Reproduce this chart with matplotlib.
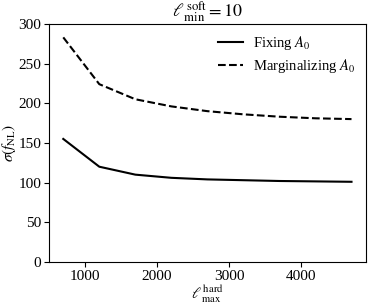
# sigma(f_NL) vs hard lmax, soft lmin = 10
import numpy as np
import matplotlib.pyplot as plt

plt.rcParams['font.family'] = 'Liberation Serif'
plt.rcParams['mathtext.fontset'] = 'stix'

lmax = [700, 1200, 1700, 2200, 2700, 3200, 3700, 4200, 4700]
sigma_fix = [155, 120, 110, 106, 104, 103, 102, 101.5, 101]
sigma_marg = [283, 224, 205, 196, 190, 186, 183, 181, 180]

fig, ax = plt.subplots(figsize=(3.73, 3.06), dpi=100)

ax.plot(lmax, sigma_fix, color='k', lw=1.5, label=r'Fixing $A_0$')
ax.plot(lmax, sigma_marg, color='k', lw=1.5, ls='--', label=r'Marginalizing $A_0$')

ax.set_ylim(0, 300)
ax.set_xticks([1000, 2000, 3000, 4000])
ax.set_title(r'$\ell^{\,\mathrm{soft}}_{\,\mathrm{min}} = 10$', fontsize=13, pad=2)
ax.set_xlabel(r'$\ell^{\,\mathrm{hard}}_{\,\mathrm{max}}$', fontsize=11, labelpad=1)
ax.set_ylabel(r'$\sigma(f_{\mathrm{NL}})$', fontsize=11, labelpad=0)
ax.tick_params(labelsize=11, length=3.5, pad=2)
ax.legend(frameon=False, fontsize=10.5, loc='upper right', borderaxespad=0.3,
          labelspacing=0.35, handlelength=1.7, handletextpad=0.7)

plt.subplots_adjust(left=0.131, right=0.981, top=0.922, bottom=0.144)
plt.savefig('out.png')
